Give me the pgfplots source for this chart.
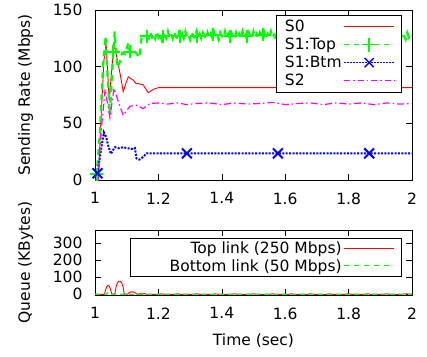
\documentclass[border=0pt]{standalone}
\usepackage{fontspec}
\setmainfont{DejaVu Sans}
\usepackage{pgfplots}
\pgfplotsset{compat=1.18}
\definecolor{gpgreen}{RGB}{0,255,0}
\definecolor{gpred}{RGB}{255,0,0}
\definecolor{gpblue}{RGB}{0,0,255}
\definecolor{gpmag}{RGB}{255,0,255}
\tikzset{
  s0/.style={color=gpred, line width=0.9pt, solid},
  s1t/.style={color=gpgreen, line width=2.2pt, dash pattern=on 6pt off 5pt},
  s1b/.style={color=gpblue, line width=2pt, dash pattern=on 2pt off 1.4pt},
  s2/.style={color=gpmag, line width=1.2pt, dash pattern=on 7pt off 3pt on 1.5pt off 3pt},
}
\pgfplotsset{
  every axis/.append style={
    font=\fontsize{15.5}{18}\selectfont,
    scale only axis, width=317pt,
    xmin=1, xmax=2, xtick={1,1.2,1.4,1.6,1.8,2},
    tick align=inside, major tick length=6pt,
    /pgf/number format/assume math mode=true,
    tick style={black, line width=0.6pt},
    axis line style={line width=0.8pt},
    legend plot pos=right,
    legend style={draw=black, fill=white, inner xsep=7pt, inner ysep=3pt,
      /tikz/every even column/.append style={column sep=11pt}},
  },
  legend image code/.code={\draw[mark repeat=2,mark phase=2,#1] plot coordinates {(0pt,0pt) (25pt,0pt) (50pt,0pt)};},
}
\begin{document}
\begin{tikzpicture}[font=\fontsize{15.5}{18}\selectfont]
\path[use as bounding box] (0pt,0pt) rectangle (427pt,-356pt);
\begin{axis}[
  at={(95pt,-10pt)}, anchor=north west, height=170pt,
  ymin=0, ymax=150, ytick={0,50,100,150},
  xticklabel style={yshift=-9pt},
  yticklabel style={xshift=-9pt},
  ylabel={Sending Rate (Mbps)},
  ylabel style={at={(axis description cs:-0.219,0.5)}, anchor=center},
  legend cell align=left,
  legend style={at={(axis description cs:0.968,0.971)}, anchor=north east, row sep=1pt},
]
% S0
\addplot[s0, forget plot] coordinates {
(1.0,0)(1.01,0)(1.02,60)(1.028,105)(1.035,120)(1.045,70)(1.052,95)(1.06,120)(1.066,112)
(1.079,94)(1.089,78)(1.097,85)(1.105,91)(1.121,88)(1.13,85)(1.137,85)(1.152,84)
(1.168,77)(1.184,80)(1.2,81.5)(1.3,81.5)(1.5,81.5)(1.7,81.5)(1.9,81.5)(2.0,81.5)};
% S1:Top
\addplot[s1t, forget plot] coordinates {
(1.0,3)(1.005,5)(1.015,40)(1.025,100)(1.033,127)(1.04,90)(1.047,58)(1.055,100)(1.062,131)
(1.07,99)(1.078,104)(1.085,112)(1.095,111)(1.105,121)(1.11,113)(1.12,115)(1.13,112)
(1.14,108)(1.147,126)(1.155,128)(1.163,127)(1.17,125)
(1.175,130)(1.18,126)(1.185,129)(1.19,125)(1.195,131)(1.20,126)(1.205,129)(1.21,124)(1.215,130)
(1.22,127)(1.225,125)(1.23,131)(1.235,126)(1.24,129)(1.245,125)(1.25,130)(1.255,127)(1.26,124)
(1.265,130)(1.27,126)(1.275,129)(1.28,125)(1.285,131)(1.29,126)(1.295,128)(1.30,124)(1.305,130)
(1.31,127)(1.315,125)(1.32,131)(1.325,126)(1.33,129)(1.335,125)(1.34,130)(1.345,127)(1.35,124)
(1.355,130)(1.36,126)(1.365,129)(1.37,125)(1.375,131)(1.38,126)(1.385,128)(1.39,124)(1.395,130)
(1.40,127)(1.405,125)(1.41,131)(1.415,126)(1.42,129)(1.425,125)(1.43,130)(1.435,127)(1.44,124)
(1.445,130)(1.45,126)(1.455,129)(1.46,125)(1.465,131)(1.47,126)(1.475,128)(1.48,124)(1.485,130)
(1.49,127)(1.495,125)(1.50,131)(1.505,126)(1.51,129)(1.515,125)(1.52,130)(1.525,127)(1.53,124)
(1.535,130)(1.54,126)(1.545,129)(1.55,125)(1.555,131)(1.56,126)(1.565,128)(1.57,124)(1.575,130)
(1.58,127)(1.585,125)(1.59,131)(1.595,126)(1.60,129)(1.605,125)(1.61,130)(1.615,127)(1.62,124)
(1.625,130)(1.63,126)(1.635,129)(1.64,125)(1.645,131)(1.65,126)(1.655,128)(1.66,124)(1.665,130)
(1.67,127)(1.675,125)(1.68,131)(1.685,126)(1.69,129)(1.695,125)(1.70,130)(1.705,127)(1.71,124)
(1.715,130)(1.72,126)(1.725,129)(1.73,125)(1.735,131)(1.74,126)(1.745,128)(1.75,124)(1.755,130)
(1.76,127)(1.765,125)(1.77,131)(1.775,126)(1.78,129)(1.785,125)(1.79,130)(1.795,127)(1.80,124)
(1.805,130)(1.81,126)(1.815,129)(1.82,125)(1.825,131)(1.83,126)(1.835,128)(1.84,124)(1.845,130)
(1.85,127)(1.855,125)(1.86,131)(1.865,126)(1.87,129)(1.875,125)(1.88,130)(1.885,127)(1.89,124)
(1.895,130)(1.90,126)(1.905,129)(1.91,125)(1.915,131)(1.92,126)(1.925,128)(1.93,124)(1.935,130)
(1.94,127)(1.945,125)(1.95,131)(1.955,126)(1.96,129)(1.965,125)(1.97,130)(1.975,127)(1.98,124)
(1.985,130)(1.99,126)(1.995,129)(2.00,127)};
\addplot[color=gpgreen, only marks, mark=+, mark size=6.5pt, line width=2pt, forget plot] coordinates {
(1.005,5)(1.058,113)(1.110,113)(1.163,127)(1.215,127)(1.268,127)(1.321,127)(1.373,128)
(1.426,127)(1.479,127)(1.531,128)(1.584,127)(1.637,127)(1.689,128)(1.742,127)(1.795,127)
(1.847,128)(1.900,127)(1.952,127)};
% S1:Btm
\addplot[s1b, forget plot] coordinates {
(1.008,6)(1.018,25)(1.028,42)(1.035,38)(1.042,30)(1.05,23)(1.056,26)(1.063,29)(1.075,28)
(1.09,29)(1.1,28)(1.11,28)(1.12,27)(1.126,28)(1.131,19)(1.14,18)(1.15,20)(1.163,23.5)
(1.2,23.5)(1.29,23.5)(1.4,23.5)(1.577,23.5)(1.7,23.5)(1.865,23.5)(2.0,23.5)};
\addplot[color=gpblue, only marks, mark=x, mark size=7pt, line width=2pt, forget plot] coordinates {
(1.008,6)(1.29,23.5)(1.577,23.5)(1.865,23.5)};
% S2
\addplot[s2, forget plot] coordinates {
(1.0,0)(1.01,0)(1.02,45)(1.032,80)(1.047,55)(1.06,81)(1.075,68)(1.089,57)(1.11,65)(1.13,66)
(1.152,63)(1.173,67.5)(1.2,68)(1.23,67)(1.26,68)(1.29,66.5)(1.32,67.5)(1.36,68)(1.4,66.5)
(1.44,68)(1.48,67)(1.52,67.5)(1.56,68.5)(1.6,66.5)(1.64,67.5)(1.68,68)(1.72,66.5)(1.76,68)
(1.8,67)(1.84,68)(1.88,66.5)(1.92,68)(1.96,67)(2.0,67.5)};
\addlegendimage{color=gpred, line width=0.9pt}
\addlegendentry{S0}
\addlegendimage{color=gpgreen, line width=1pt, dash pattern=on 5pt off 5pt, mark=+, mark size=7pt, mark options={solid, line width=1.4pt}}
\addlegendentry{S1:Top}
\addlegendimage{color=gpblue, line width=1pt, dash pattern=on 1.5pt off 1.5pt, mark=x, mark size=6.5pt, mark options={solid, line width=1.4pt}}
\addlegendentry{S1:Btm}
\addlegendimage{color=gpmag, line width=1pt, dash pattern=on 6pt off 3pt on 1.5pt off 3pt}
\addlegendentry{S2}
\end{axis}
\begin{axis}[
  at={(95pt,-230pt)}, anchor=north west, height=65pt,
  ymin=-4, ymax=378, ytick={0,100,200,300},
  xticklabel style={yshift=-9pt},
  yticklabel style={xshift=-9pt},
  ylabel={Queue (KBytes)},
  ylabel style={at={(axis description cs:-0.219,0.5)}, anchor=center},
  xlabel={Time (sec)},
  xlabel style={at={(axis description cs:0.5,-0.70)}, anchor=center},
  legend cell align=right,
  legend style={at={(axis description cs:0.968,0.88)}, anchor=north east, inner ysep=2pt},
]
\addplot[color=gpred, line width=0.9pt, forget plot] coordinates {
(1.0,0)(1.03,0)(1.033,25)(1.037,45)(1.041,53)(1.045,48)(1.049,30)(1.053,2)(1.058,0)(1.063,5)
(1.066,40)(1.070,65)(1.075,77)(1.080,77)(1.085,65)(1.089,40)(1.092,5)(1.1,0)(1.104,3)(1.108,10)
(1.113,14)(1.118,15)(1.124,12)(1.13,5)(1.134,0)(1.14,3)(1.145,6)(1.15,2)(1.155,5)(1.16,1)
(1.17,0)(1.2,0)(1.21,3)(1.22,0)(1.25,0)(1.26,3)(1.27,0)(1.31,0)(1.32,3)(1.33,0)(1.37,0)
(1.38,3)(1.39,0)(1.43,0)(1.44,3)(1.45,0)(1.49,0)(1.50,3)(1.51,0)(1.55,0)(1.56,3)(1.57,0)
(1.61,0)(1.62,3)(1.63,0)(1.67,0)(1.68,3)(1.69,0)(1.73,0)(1.74,3)(1.75,0)(1.79,0)(1.80,3)
(1.81,0)(1.85,0)(1.86,3)(1.87,0)(1.91,0)(1.92,3)(1.93,0)(1.97,0)(1.98,3)(2.0,0)};
\addplot[color=gpgreen, line width=1.2pt, dash pattern=on 5pt off 4pt, forget plot] coordinates {
(1.0,0)(1.035,0)(1.039,10)(1.044,14)(1.049,10)(1.053,0)(2.0,0)};
\addlegendimage{color=gpred, line width=0.9pt}
\addlegendentry{Top link (250 Mbps)}
\addlegendimage{color=gpgreen, line width=1pt, dash pattern=on 5pt off 5pt}
\addlegendentry{\hspace*{30pt}Bottom link (50 Mbps)}
\end{axis}
\end{tikzpicture}
\end{document}
